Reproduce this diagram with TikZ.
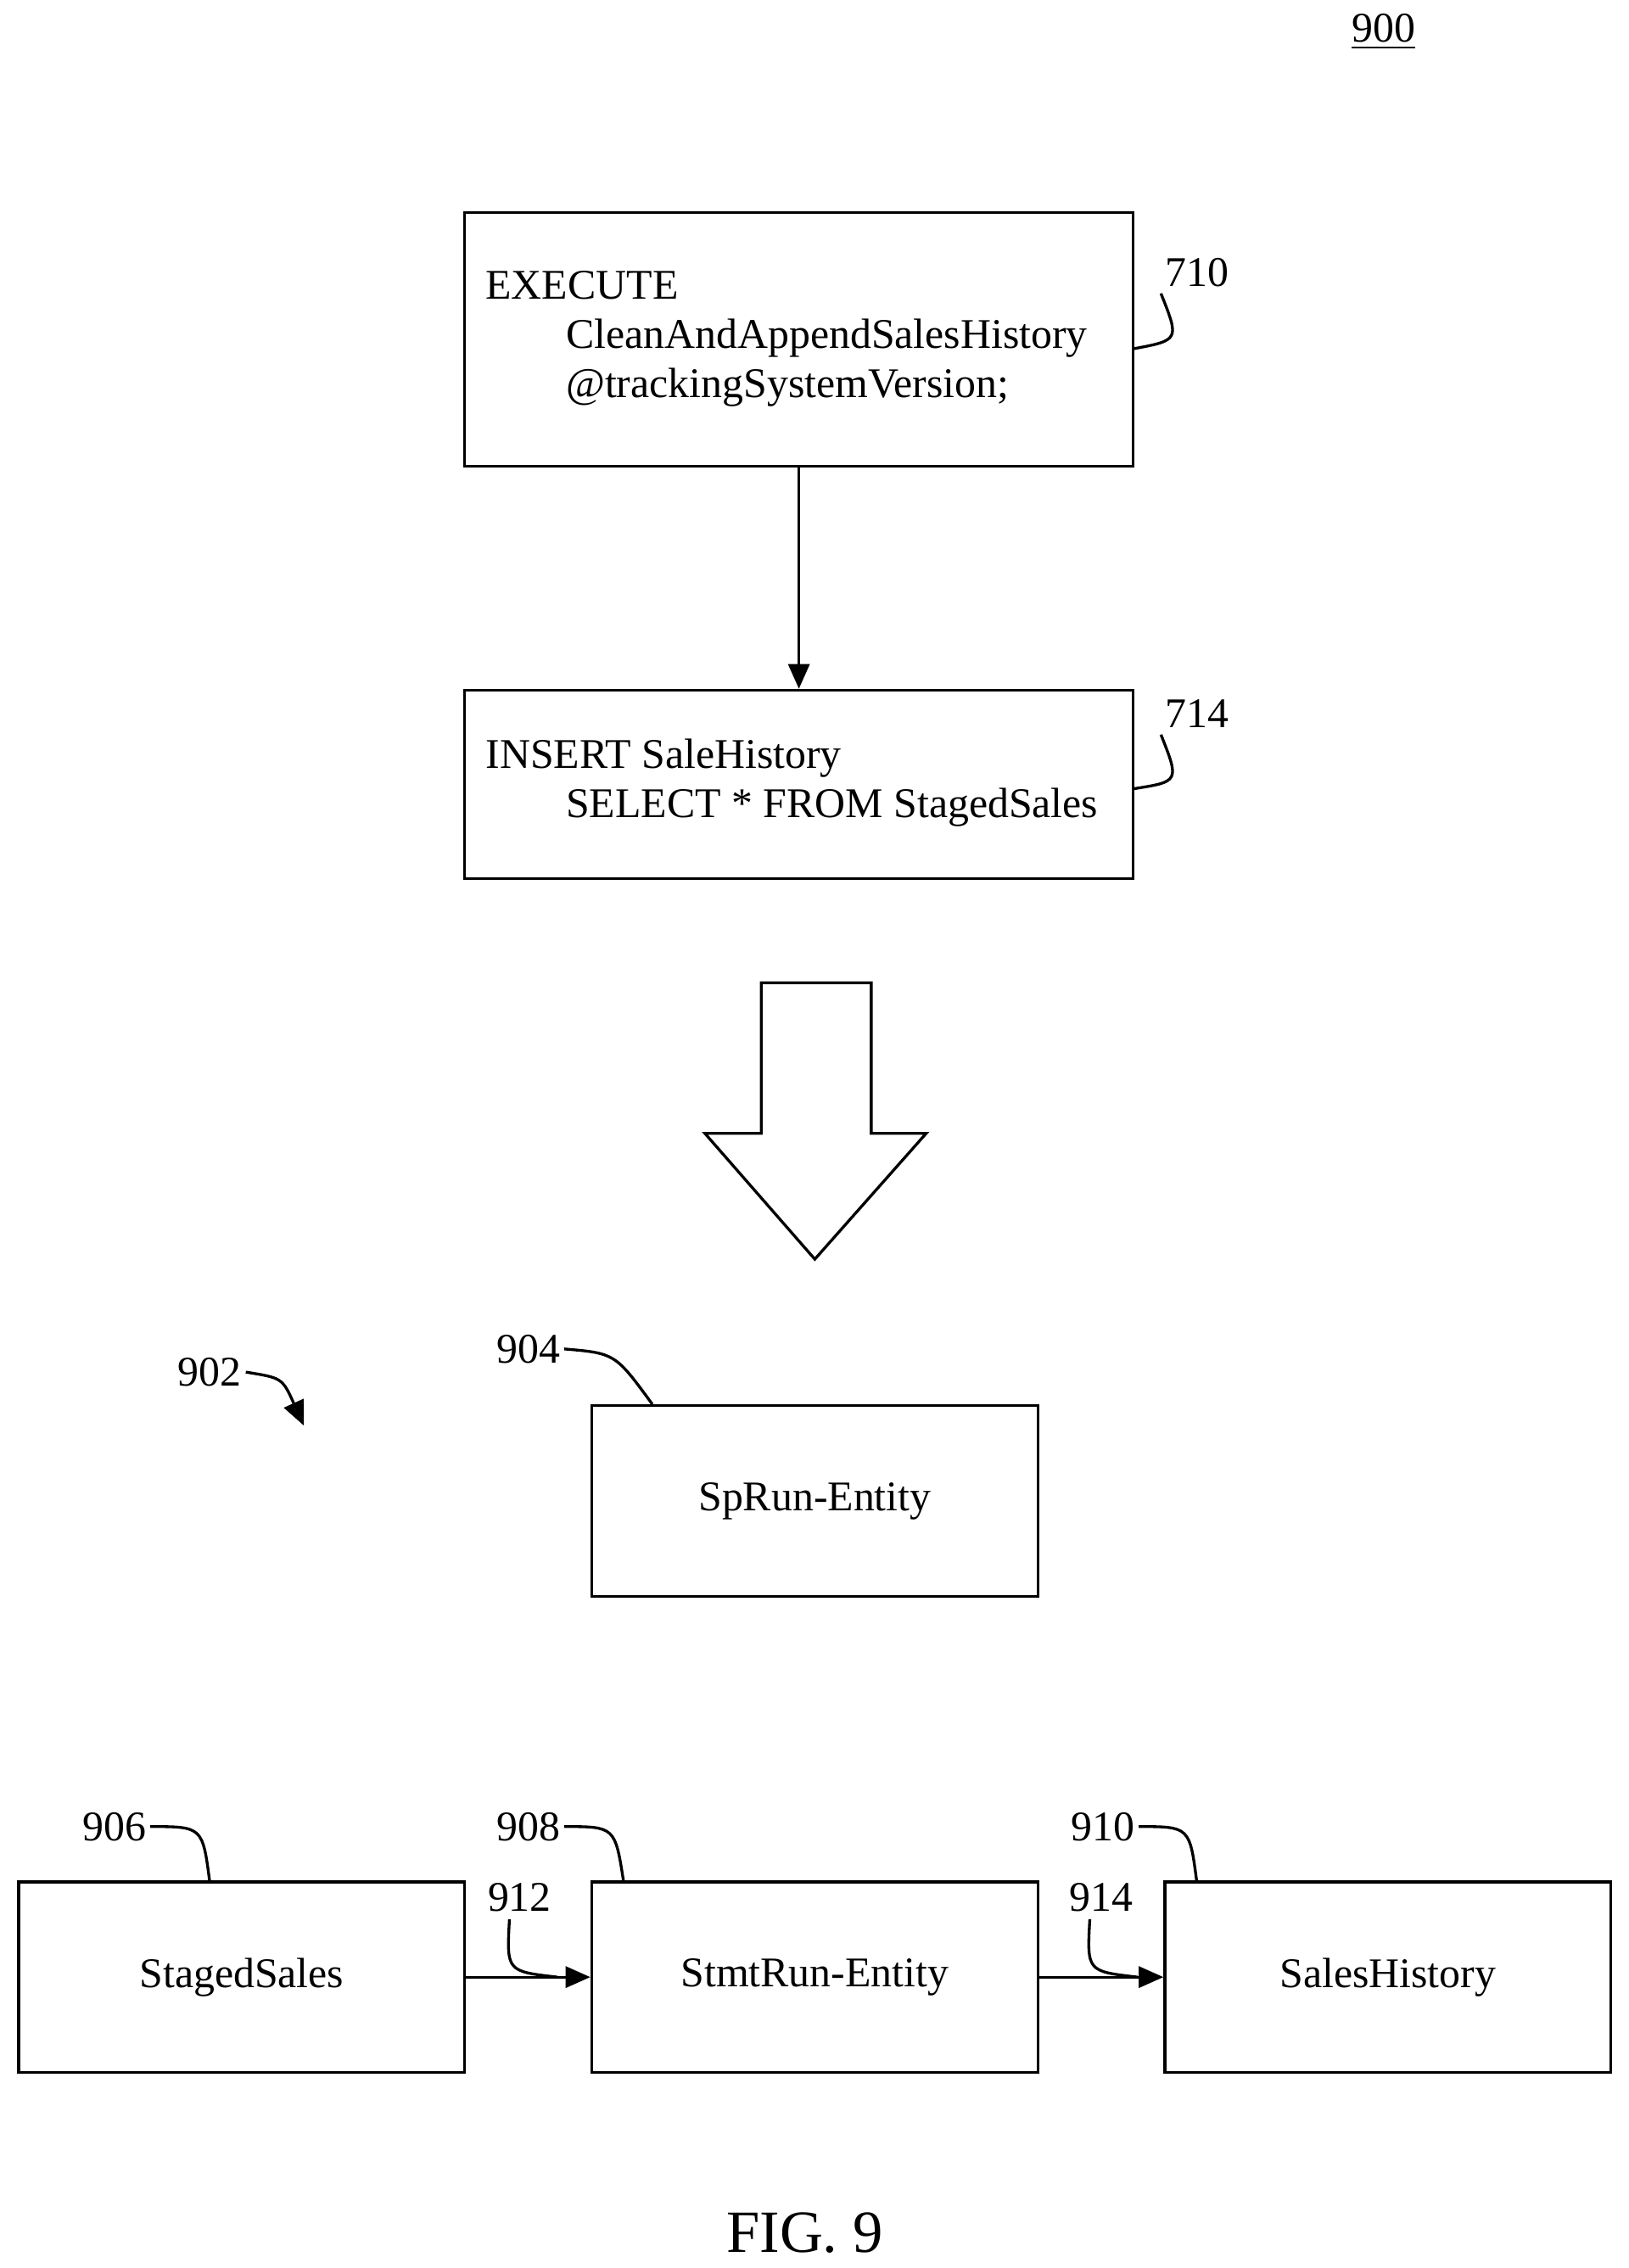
\documentclass[tikz,border=0pt]{standalone}
\usepackage{fontspec}
\setmainfont{Liberation Serif}
\usetikzlibrary{positioning,arrows.meta}

\tikzset{
    box/.style={draw, line width=0.8pt, inner sep=0pt},
    ref/.style={font=\fontsize{12}{14}\selectfont, inner sep=1pt},
    lead/.style={line width=0.8pt},
    flow/.style={line width=0.8pt, -{Triangle[length=7pt,width=6pt]}}
}

\begin{document}
\begin{tikzpicture}[x=0.01444cm, y=-0.01444cm, font=\fontsize{12}{14}\selectfont]
\useasboundingbox (0,0) rectangle (1125,1567);

% upper statements
\node[box, minimum width=462\pgflinewidth] (s710) at (552,234.5) [minimum width=6.67cm, minimum height=2.53cm] {};
\node[anchor=west, align=left] (t710) at (327,234) {EXECUTE\\\hspace{1.9em}CleanAndAppendSalesHistory\\\hspace{1.9em}@trackingSystemVersion;};
\node[box, minimum width=6.67cm, minimum height=1.88cm] (s714) at (552,542) {};
\node[anchor=west, align=left] (t714) at (327,541) {INSERT SaleHistory\\\hspace{1.9em}SELECT * FROM StagedSales};
\draw[flow] (s710.south) -- (s714.north);

\node[ref] (l710) at (827,188) {710};
\node[ref] (l714) at (827,493) {714};
\draw[lead] (l710.south west) ++(0,2) .. controls (815,235) .. (783,241);
\draw[lead] (l714.south west) ++(0,2) .. controls (815,540) .. (783,545);

% big arrow
\draw[line width=0.8pt] (526,679) -- (602,679) -- (602,783) -- (640,783) -- (563,870)
    -- (487,783) -- (526,783) -- cycle;

% entities
\node[box, minimum width=4.45cm, minimum height=1.9cm] (sp) at (563,1037) {SpRun-Entity};
\node[box, minimum width=4.45cm, minimum height=1.9cm] (staged) at (167,1366) {StagedSales};
\node[box, minimum width=4.45cm, minimum height=1.9cm] (stmt) at (563,1366) {StmtRun-Entity};
\node[box, minimum width=4.45cm, minimum height=1.9cm] (hist) at (959,1366) {SalesHistory};
\draw[flow] (staged) -- (stmt);
\draw[flow] (stmt) -- (hist);

\node[ref] (l902) at (145,948) {902};
\node[ref] (l904) at (365,932) {904};
\node[ref] (l906) at (79,1262) {906};
\node[ref] (l908) at (365,1262) {908};
\node[ref] (l910) at (762,1262) {910};
\node[ref] (l912) at (359,1311) {912};
\node[ref] (l914) at (761,1311) {914};
\draw[lead, -{Triangle[length=7pt,width=6pt]}] (l902.east) .. controls (195,952) .. (210,985);
\draw[lead] (l904.east) .. controls (425,935) .. ([xshift=22\pgflinewidth]sp.north west);
\draw[lead] (l906.east) .. controls (140,1262) .. (145,1301);
\draw[lead] (l908.east) .. controls (425,1262) .. (431,1301);
\draw[lead] (l910.east) .. controls (822,1262) .. (827,1301);
\draw[lead] (352,1326) .. controls (350,1362) .. (385,1366);
\draw[lead] (753,1326) .. controls (751,1362) .. (786,1366);

\node[font=\fontsize{12}{14}\selectfont] (fig900) at (956,22) {\underline{900}};
\node[font=\fontsize{17}{20}\selectfont] (cap) at (556,1543) {FIG. 9};
\end{tikzpicture}
\end{document}
